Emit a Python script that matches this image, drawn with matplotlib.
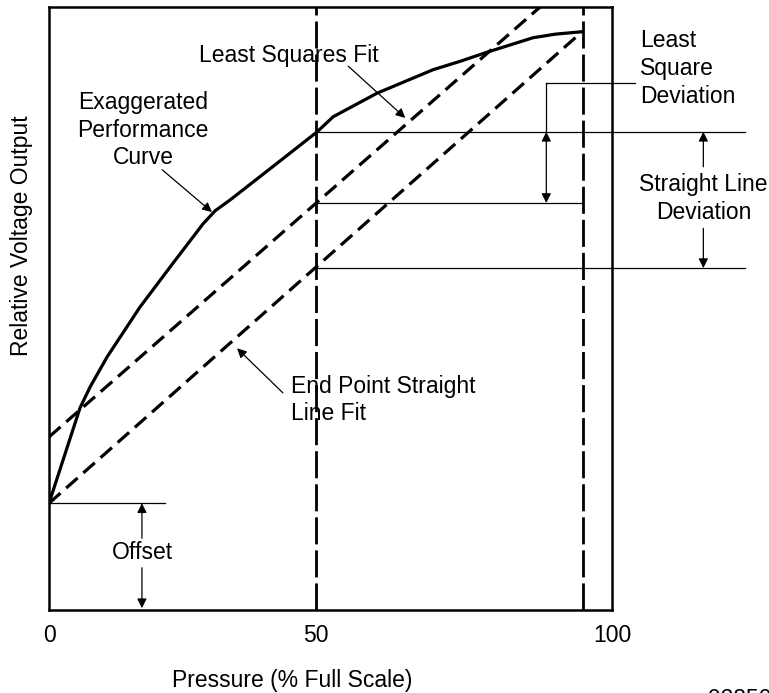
import numpy as np
import matplotlib
matplotlib.use("Agg")
import matplotlib.pyplot as plt

plt.rcParams['font.family'] = ['Liberation Sans', 'DejaVu Sans']
plt.rcParams['lines.scale_dashes'] = False

# performance curve (pressure %, relative output)
curve_x = [0, 5.8, 7.7, 10.9, 17.0, 23.2, 27.0, 28.8, 31.1, 33.9, 43.3, 50.2, 53.2,
           61.4, 71.9, 77.0, 82.0, 90.6, 94.8, 99.8]
curve_y = [17.7, 33.5, 37.0, 42.0, 50.2, 57.5, 61.9, 64.0, 66.2, 68.0, 74.5, 79.3, 81.8,
           85.7, 89.6, 91.0, 92.5, 94.9, 95.5, 95.9]

# straight line fits
lsq_x = [0, 92.2]
lsq_y = [28.7, 100.2]
endpt_x = [0, 99.8]
endpt_y = [17.7, 95.9]

offset = 17.7
y_curve50 = 79.3
y_lsq50 = 67.5
y_endpt50 = 56.7

fs = 16.5
fig = plt.figure(figsize=(7.69, 6.93), dpi=100)
ax = fig.add_axes([49 / 769, 83 / 693, 563 / 769, 603 / 693])
ax.set_xlim(0, 105.4)
ax.set_ylim(0, 100)
for s in ax.spines.values():
    s.set_linewidth(1.8)
ax.set_yticks([])
ax.set_xticks([0, 50, 105.4])
ax.set_xticklabels(['0', '50', '100'], fontsize=fs)
ax.tick_params(axis='x', length=0, pad=10)

# curve and fits
ax.plot(curve_x, curve_y, color='black', lw=2.3, solid_joinstyle='round')
ax.plot(lsq_x, lsq_y, color='black', lw=2.3, dashes=(11, 5.5))
ax.plot(endpt_x, endpt_y, color='black', lw=2.3, dashes=(11, 5.5))

# vertical dashed reference lines
for xv in [50, 100]:
    ax.plot([xv, xv], [0, 100], color='black', lw=2.0, dashes=(19.5, 4.3))

thin = dict(color='black', lw=0.9, clip_on=False)
ax.plot([0, 21.7], [offset, offset], **thin)
ax.plot([50, 130.3], [y_curve50, y_curve50], **thin)
ax.plot([50, 100], [y_lsq50, y_lsq50], **thin)
ax.plot([50, 130.3], [y_endpt50, y_endpt50], **thin)
ax.plot([93.1, 109.7], [87.4, 87.4], **thin)
ax.plot([93.1, 93.1], [87.4, y_curve50], **thin)

arr = dict(arrowstyle='-|>', color='black', lw=0.9, mutation_scale=14, shrinkA=0, shrinkB=0)
dbl = dict(arrowstyle='<|-|>', color='black', lw=0.9, mutation_scale=14, shrinkA=0, shrinkB=0)

# least square deviation
ax.annotate('', xy=(93.1, y_curve50), xytext=(93.1, y_lsq50), arrowprops=dbl, annotation_clip=False)
# straight line deviation
ax.annotate('', xy=(122.5, y_curve50), xytext=(122.5, 73.5), arrowprops=arr, annotation_clip=False)
ax.annotate('', xy=(122.5, y_endpt50), xytext=(122.5, 63.3), arrowprops=arr, annotation_clip=False)
# offset
ax.annotate('', xy=(17.4, offset), xytext=(17.4, 11.9), arrowprops=arr)
ax.annotate('', xy=(17.4, 0.3), xytext=(17.4, 7.0), arrowprops=arr)
ax.text(17.4, 9.5, 'Offset', ha='center', va='center', fontsize=fs)

# labels with pointers
ax.text(44.9, 92.0, 'Least Squares Fit', ha='center', va='center', fontsize=fs)
ax.annotate('', xy=(66.7, 81.6), xytext=(56.0, 90.2), arrowprops=arr)
ax.text(17.6, 79.6, 'Exaggerated\nPerformance\nCurve', ha='center', va='center',
        fontsize=fs, linespacing=1.25)
ax.annotate('', xy=(30.5, 66.0), xytext=(21.2, 73.0), arrowprops=arr)
ax.text(45.3, 34.8, 'End Point Straight\nLine Fit', ha='left', va='center',
        fontsize=fs, linespacing=1.2)
ax.annotate('', xy=(35.2, 43.4), xytext=(43.8, 36.0), arrowprops=arr)
ax.text(110.7, 89.8, 'Least\nSquare\nDeviation', ha='left', va='center',
        fontsize=fs, linespacing=1.3, clip_on=False)
ax.text(122.5, 68.2, 'Straight Line\nDeviation', ha='center', va='center',
        fontsize=fs, linespacing=1.3, clip_on=False)

fig.text(22 / 769, 1 - 236 / 693, 'Relative Voltage Output', rotation=90,
         ha='center', va='center', fontsize=fs)
fig.text(292 / 769, 1 - 680 / 693, 'Pressure (% Full Scale)', ha='center',
         va='center', fontsize=fs)
fig.text(662 / 769, 5 / 693, 'aaa-028501', ha='left', va='top', fontsize=fs)

fig.savefig('out.png', dpi=100)
